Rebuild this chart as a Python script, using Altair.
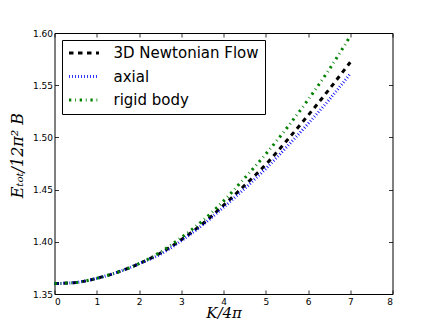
import altair as alt
import pandas as pd

K = [0, 0.5, 1, 1.5, 2, 2.5, 3, 3.5, 4, 4.5, 5, 5.5, 6, 6.5, 7]
newton = [1.360, 1.361, 1.365, 1.371, 1.379, 1.389, 1.402, 1.417, 1.435, 1.454, 1.474, 1.497, 1.521, 1.546, 1.572]
axial = [1.360, 1.361, 1.365, 1.371, 1.379, 1.388, 1.401, 1.416, 1.433, 1.451, 1.470, 1.491, 1.513, 1.536, 1.561]
rigid = [1.360, 1.361, 1.365, 1.371, 1.379, 1.390, 1.404, 1.420, 1.439, 1.461, 1.484, 1.509, 1.536, 1.565, 1.597]

names = ["3D Newtonian Flow", "axial", "rigid body"]
colors = ["#000000", "#0000ff", "#008000"]
dashes = [[4.5, 4.5], [0.8, 2.2], [2.3, 3.8, 0.8, 3.8]]
xticks = [0, 1, 2, 3, 4, 5, 6, 7, 8]
yticks = [1.35, 1.40, 1.45, 1.50, 1.55, 1.60]

rows = []
for name, vals in zip(names, [newton, axial, rigid]):
    for k, v in zip(K, vals):
        rows.append({"K": k, "E": v, "series": name})
df = pd.DataFrame(rows)

leg = alt.Legend(
    orient="none", legendX=7.5, legendY=7, title=None,
    strokeColor="black", fillColor="white", padding=5.5,
    symbolType="stroke", symbolSize=900, symbolStrokeWidth=3,
    labelFont="DejaVu Sans", labelFontSize=15, labelColor="black",
    labelOffset=13, rowPadding=7.5, clipHeight=15, cornerRadius=0,
)

xscale = alt.Scale(domain=[0, 8], nice=False, zero=False)
yscale = alt.Scale(domain=[1.35, 1.60], nice=False, zero=False)

lines = alt.Chart(df).mark_line(strokeWidth=3, interpolate="monotone").encode(
    x=alt.X("K:Q", scale=xscale,
            axis=alt.Axis(values=xticks, format="d", title="K/4π", orient="bottom",
                          offset=-4, tickSize=4, domain=False, labelPadding=3,
                          titlePadding=-1, titleFontSize=15, titleFont="DejaVu Serif",
                          titleFontStyle="italic", titleFontWeight="normal")),
    y=alt.Y("E:Q", scale=yscale,
            axis=alt.Axis(values=yticks, format=".2f", title="Eₜₒₜ/12π² B", orient="left",
                          offset=-4, tickSize=4, domain=False, labelPadding=2,
                          titlePadding=7, titleFontSize=16, titleFont="DejaVu Serif",
                          titleFontStyle="italic", titleFontWeight="normal", titleY=122)),
    color=alt.Color("series:N", scale=alt.Scale(domain=names, range=colors), legend=leg),
    strokeDash=alt.StrokeDash("series:N", scale=alt.Scale(domain=names, range=dashes), legend=leg),
)

ghost = alt.Chart(df).mark_line(opacity=0).encode(
    x=alt.X("K:Q", scale=xscale,
            axis=alt.Axis(values=xticks, orient="top", labels=False, title=None,
                          offset=-4, tickSize=4, domain=False)),
    y=alt.Y("E:Q", scale=yscale,
            axis=alt.Axis(values=yticks, orient="right", labels=False, title=None,
                          offset=-4, tickSize=4, domain=False)),
    detail="series:N",
)

chart = alt.layer(lines, ghost).resolve_axis(x="independent", y="independent").properties(
    width=338, height=261,
    autosize=alt.AutoSizeParams(type="none"),
    padding={"left": 46.5, "top": 25, "right": 35, "bottom": 25},
).configure_view(stroke="black", strokeWidth=1).configure_axis(
    grid=False, tickColor="black", tickWidth=0.8, labelFont="DejaVu Sans",
    labelFontSize=9, labelColor="black", titleColor="black",
)

chart.save("out.html", embed_options={"renderer": "svg", "actions": False})
